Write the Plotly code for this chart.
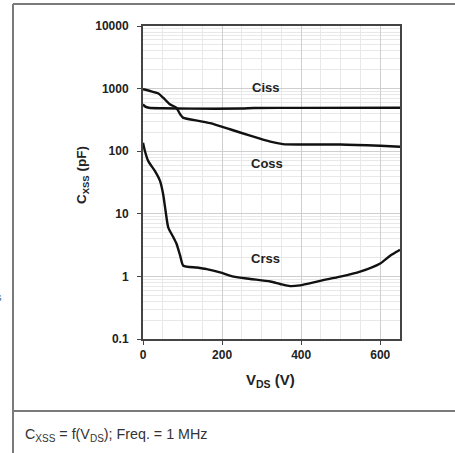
import plotly.graph_objects as go

# ---- data ----
ciss_v = [0, 5, 15, 50, 120, 250, 280, 400, 650]
ciss_c = [560, 520, 495, 485, 478, 480, 490, 492, 495]

coss_v = [0, 18, 38, 51, 68, 84, 94, 101, 144, 170, 220, 271, 322, 354, 397, 499, 600, 650]
coss_c = [975, 916, 841, 716, 562, 496, 389, 344, 303, 280, 224, 177, 142, 130, 128, 128, 122, 118]

crss_v = [0, 5, 13, 30, 43, 51, 57, 64, 77, 85, 94, 102, 136, 161, 195, 229, 271, 322,
          347, 372, 397, 448, 499, 549, 600, 625, 646, 650]
crss_c = [137, 100, 70, 48.5, 33.6, 20.6, 11.2, 6.0, 4.2, 3.3, 2.14, 1.48, 1.39, 1.31,
          1.16, 0.99, 0.91, 0.83, 0.757, 0.70, 0.72, 0.85, 0.99, 1.19, 1.61, 2.14, 2.57, 2.65]

y_ticks = [0.1, 1, 10, 100, 1000, 10000]
y_tick_text = ["0.1", "1", "10", "100", "1000", "10000"]
x_ticks = [0, 200, 400, 600]
x_tick_text = ["0", "200", "400", "600"]

W, H = 455, 453
L, R, T, B = 143, 400, 26, 339  # plot area in px


def px(x):
    return (x - L) / (R - L)


def py(y):
    return (B - y) / (B - T)


FONT = "Liberation Sans, Arial, sans-serif"

fig = go.Figure()
for v, c in [(ciss_v, ciss_c), (coss_v, coss_c), (crss_v, crss_c)]:
    fig.add_trace(go.Scatter(x=v, y=c, mode="lines",
                             line=dict(color="#111111", width=2.4, shape="spline", smoothing=0.6),
                             showlegend=False, hoverinfo="skip"))

fig.update_layout(
    width=W, height=H,
    margin=dict(l=L, r=W - R, t=T, b=H - B),
    paper_bgcolor="white", plot_bgcolor="white",
    font=dict(family=FONT, color="#222222"),
    xaxis=dict(range=[0, 650], tickvals=x_ticks, ticktext=["<b>%s</b>" % t for t in x_tick_text],
               ticks="outside", ticklen=4,
               tickcolor="#444", showline=True, linecolor="#444", linewidth=2, mirror=True,
               showgrid=True, gridcolor="#cfcfcf", gridwidth=1, zeroline=False,
               tickfont=dict(size=12, family=FONT, color="#222"),
               minor=dict(dtick=50, showgrid=True, gridcolor="#e8e8e8")),
    yaxis=dict(type="log", range=[-1, 4], tickvals=y_ticks,
               ticktext=["<b>%s</b>" % t for t in y_tick_text],
               ticks="outside", ticklen=4, tickcolor="#444", ticklabelstandoff=6,
               showline=True, linecolor="#444", linewidth=2, mirror=True,
               showgrid=True, gridcolor="#cfcfcf", gridwidth=1, zeroline=False,
               tickfont=dict(size=12, family=FONT, color="#222"),
               minor=dict(dtick="D1", showgrid=True, gridcolor="#e8e8e8")),
)

ann = []


def add_text(text, x, y, size, xanchor="center", angle=0, color="#222", bold=True):
    ann.append(dict(text=("<b>%s</b>" % text) if bold else text, x=px(x), y=py(y),
                    xref="paper", yref="paper", xanchor=xanchor, yanchor="middle",
                    textangle=angle, showarrow=False,
                    font=dict(size=size, family=FONT, color=color)))


# curve labels
add_text("Ciss", 265, 87, 13)
add_text("Coss", 267, 163, 13)
add_text("Crss", 265, 258, 13)
# axis titles
add_text("V<sub>DS</sub> (V)", 270, 380, 15)
add_text("C<sub>XSS</sub> (pF)", 82, 175, 13.5, angle=-90)
# caption
add_text("C<sub>XSS</sub> = f(V<sub>DS</sub>); Freq. = 1 MHz", 23, 435, 14.3, xanchor="left",
         color="#333", bold=False)
# fragment at left edge
add_text("s", 4, 297, 11, xanchor="right", color="#3b5a8c", bold=False)
fig.update_layout(annotations=ann)

# frame lines
line = dict(color="#7a7a7a", width=2)
fig.add_shape(type="line", xref="paper", yref="paper", x0=px(13), x1=px(13), y0=py(4), y1=py(460), line=line)
fig.add_shape(type="line", xref="paper", yref="paper", x0=px(13), x1=px(470), y0=py(4), y1=py(4), line=line)
fig.add_shape(type="line", xref="paper", yref="paper", x0=px(13), x1=px(470), y0=py(411), y1=py(411), line=line)

fig.write_html("out.html", config={"displayModeBar": False},
               post_script="document.body.style.margin='0';document.body.style.overflow='hidden';")
